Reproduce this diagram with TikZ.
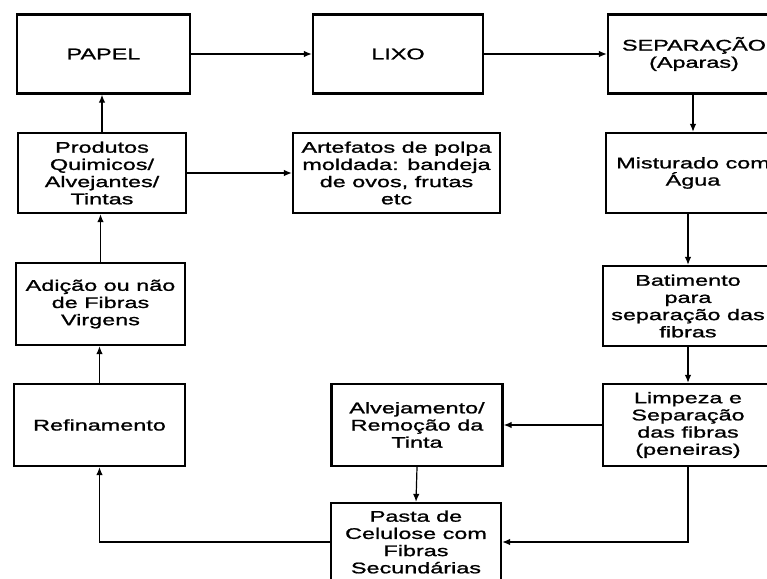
\documentclass[tikz,border=0pt]{standalone}
\usepackage{fontspec}
\setmainfont{Liberation Sans}[FakeStretch=1.52, FakeBold=1.2]
\usetikzlibrary{arrows.meta}
\begin{document}
\begin{tikzpicture}[x=1pt,y=-1pt,
  box/.style={draw, line width=2.3pt, rectangle, align=center, inner sep=0pt,
    font=\fontsize{15.4}{17.2}\selectfont},
  arr/.style={line width=1.2pt, -{Latex[length=8pt,width=6.5pt]}}]
\useasboundingbox (0,0) rectangle (767,578);
\clip (0,0) rectangle (767,578);
% row 1
\node[box, minimum width=173pt, minimum height=79pt] (papel) at (103.5,54) {PAPEL};
\node[box, minimum width=170pt, minimum height=79pt] (lixo) at (398,54) {LIXO};
\node[box, minimum width=172pt, minimum height=79pt] (sep) at (694,54) {SEPARAÇÃO\\(Aparas)};
% row 2
\node[box, minimum width=168pt, minimum height=80pt] (prod) at (102,173) {Produtos\\Quimicos/\\Alvejantes/\\Tintas};
\node[box, minimum width=207pt, minimum height=80pt] (art) at (396.5,173) {Artefatos de polpa\\moldada: bandeja\\de ovos, frutas\\etc};
\node[box, minimum width=174pt, minimum height=80pt] (mist) at (693,173) {Misturado com\\Água};
% row 3
\node[box, minimum width=169pt, minimum height=82pt] (adic) at (100.5,304) {Adição ou não\\de Fibras\\Virgens};
\node[box, minimum width=170pt, minimum height=80pt] (bat) at (688,306) {Batimento\\para\\separação das\\fibras};
% row 4
\node[box, minimum width=171pt, minimum height=82pt] (refin) at (99.5,425) {Refinamento};
\node[box, minimum width=171pt, minimum height=82pt] (alv) at (417,425) {Alvejamento/\\Remoção da\\Tinta};
\node[box, minimum width=170pt, minimum height=82pt] (limp) at (688,425) {Limpeza e\\Separação\\das fibras\\(peneiras)};
% row 5
\node[box, minimum width=170pt, minimum height=78pt] (pasta) at (416,542) {Pasta de\\Celulose com\\Fibras\\Secundárias};
% connectors
\draw[arr] (papel.east) -- (lixo.west);
\draw[arr] (lixo.east) -- (sep.west);
\draw[arr] (sep.south -| mist.south) -- (mist.north);
\draw[arr] (mist.south -| bat.north) -- (bat.north);
\draw[arr] (bat.south) -- (limp.north);
\draw[arr] (limp.west) -- (alv.east);
\draw[arr] (alv.south) -- (pasta.north);
\draw[arr] (limp.south) |- (pasta.east);
\draw[arr] (pasta.west) -| (refin.south);
\draw[arr] (refin.north) -- (refin.north |- adic.south);
\draw[arr] (adic.north) -- (adic.north |- prod.south);
\draw[arr] (prod.north) -- (prod.north |- papel.south);
\draw[arr] (prod.east) -- (art.west);
\end{tikzpicture}
\end{document}
